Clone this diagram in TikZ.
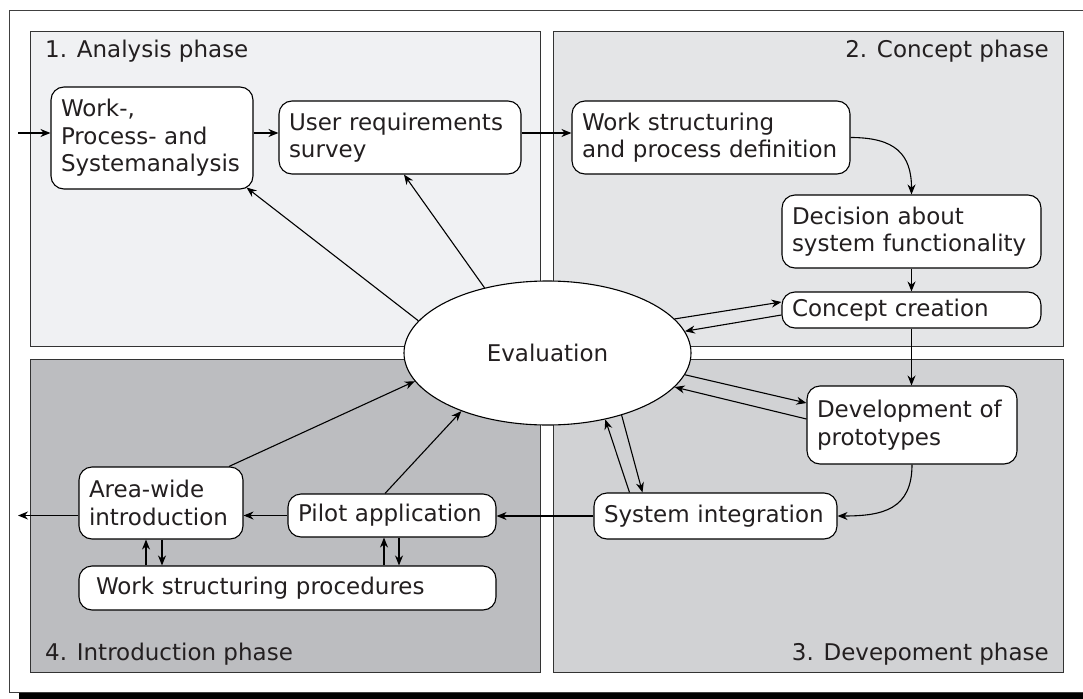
\documentclass[tikz,border=0pt]{standalone}
\usepackage{fontspec}
\setmainfont{DejaVu Sans}
\usetikzlibrary{shapes.geometric,arrows.meta,calc}
\definecolor{txt}{HTML}{231F20}
\definecolor{pone}{HTML}{F0F1F3}
\definecolor{ptwo}{HTML}{E4E5E7}
\definecolor{pthree}{HTML}{D1D2D4}
\definecolor{pfour}{HTML}{BCBDC0}
\begin{document}
\begin{tikzpicture}[x=1pt,y=-1pt,
  every node/.style={font=\fontsize{23}{27.5}\selectfont, text=txt},
  box/.style={draw=black, line width=1.1pt, fill=white, rounded corners=13pt, inner xsep=10pt, inner ysep=0pt, align=left},
  panel/.style={draw=black!80, line width=1pt},
  arr/.style={draw=black, line width=1.1pt, -{Stealth[length=10pt,width=8pt]}},
  lbl/.style={inner sep=0pt}
]
\useasboundingbox (0,0) rectangle (1083,698);
\clip (0,0) rectangle (1083,698);
% frame and shadow
\fill[black] (19,693) rectangle (1100,710);
\draw[black!75, line width=1pt, fill=white] (9,11) rectangle (1100,692);
% panels
\filldraw[panel, fill=pone] (30,32) rectangle (540,346);
\filldraw[panel, fill=ptwo] (553,32) rectangle (1063,346);
\filldraw[panel, fill=pfour] (30,359) rectangle (540,672);
\filldraw[panel, fill=pthree] (553,359) rectangle (1063,672);
% labels
\node[lbl, anchor=base west] (l1) at (45,58) {1. Analysis phase};
\node[lbl, anchor=base east] (l2) at (1049,58) {2. Concept phase};
\node[lbl, anchor=base east] (l3) at (1049,660) {3. Devepoment phase};
\node[lbl, anchor=base west] (l4) at (45,660) {4. Introduction phase};
% nodes
\node[box, text width=182pt, minimum height=102pt] (wpa) at (152,138) {Work-,\\Process- and\\Systemanalysis};
\node[box, text width=222pt, minimum height=73pt] (urs) at (400,137.5) {User requirements\\survey};
\node[box, text width=258pt, minimum height=73pt] (wsp) at (711,137.5) {Work structuring\\and process definition};
\node[box, text width=239pt, minimum height=73pt] (dsf) at (911.5,231.5) {Decision about\\system functionality};
\node[box, text width=239pt, minimum height=36pt] (cc) at (911.5,310) {Concept creation};
\node[box, text width=190pt, minimum height=78pt] (dev) at (912,425) {Development of\\prototypes};
\node[box, text width=223pt, minimum height=46pt] (si) at (715.5,516) {System integration};
\node[box, text width=188pt, minimum height=43pt] (pa) at (392,515.5) {Pilot application};
\node[box, text width=144pt, minimum height=72pt] (aw) at (161,503) {Area-wide\\introduction};
\node[box, inner xsep=17pt, text width=383pt, minimum height=44pt] (wsproc) at (287.5,588) {Work structuring procedures};
\node[draw=black, line width=1.1pt, fill=white, ellipse, minimum width=287pt, minimum height=144pt, inner sep=0pt] (eval) at (547.5,353) {Evaluation};
% connectors
\coordinate (in) at (18,133);
\coordinate (out) at (18,514);
\draw[arr] (in) -- (in -| wpa.west);
\draw[arr] (wpa.east |- in) -- (urs.west |- in);
\draw[arr] (urs.east |- in) -- (wsp.west |- in);
\draw[arr] (wsp.east) .. controls +(45,0) and +(0,-40) .. (dsf.north);
\draw[arr] (dsf.south) -- (cc.north);
\draw[arr] (cc.south) -- (cc.south |- dev.north);
\draw[arr] (dev.south) .. controls +(0,45) and +(45,0) .. (si.east);
\draw[arr] (si.west) -- (si.west -| pa.east);
\draw[arr] (pa.west) -- (pa.west -| aw.east);
\draw[arr] (aw.west |- pa.west) -- (out |- pa.west);
\coordinate (a1) at ([xshift=-15pt]aw.south);
\coordinate (a2) at ([xshift=1pt]aw.south);
\coordinate (p1) at ([xshift=-8pt]pa.south);
\coordinate (p2) at ([xshift=7pt]pa.south);
\draw[arr] (a1 |- wsproc.north) -- (a1);
\draw[arr] (a2) -- (a2 |- wsproc.north);
\draw[arr] (p1 |- wsproc.north) -- (p1);
\draw[arr] (p2) -- (p2 |- wsproc.north);
\draw[arr] (eval.15) -- ([yshift=8pt]cc.west);
\draw[arr] ([yshift=-5pt]cc.west) -- (eval.9);
\draw[arr] (eval.-9) -- ([yshift=22pt]dev.west);
\draw[arr] ([yshift=6pt]dev.west) -- (eval.-15);
\draw[arr] ([xshift=-86pt]si.north) -- (eval.-49);
\draw[arr] (eval.-40) -- ([xshift=-73pt]si.north);
\draw[arr] ([xshift=68pt]aw.north) -- (eval.192);
\draw[arr] ([xshift=-7pt]pa.north) -- (eval.214);
\draw[arr] (eval.166) -- ([xshift=-7pt,yshift=2pt]wpa.south east);
\draw[arr] (eval.134) -- ([xshift=4pt]urs.south);
\end{tikzpicture}
\end{document}
